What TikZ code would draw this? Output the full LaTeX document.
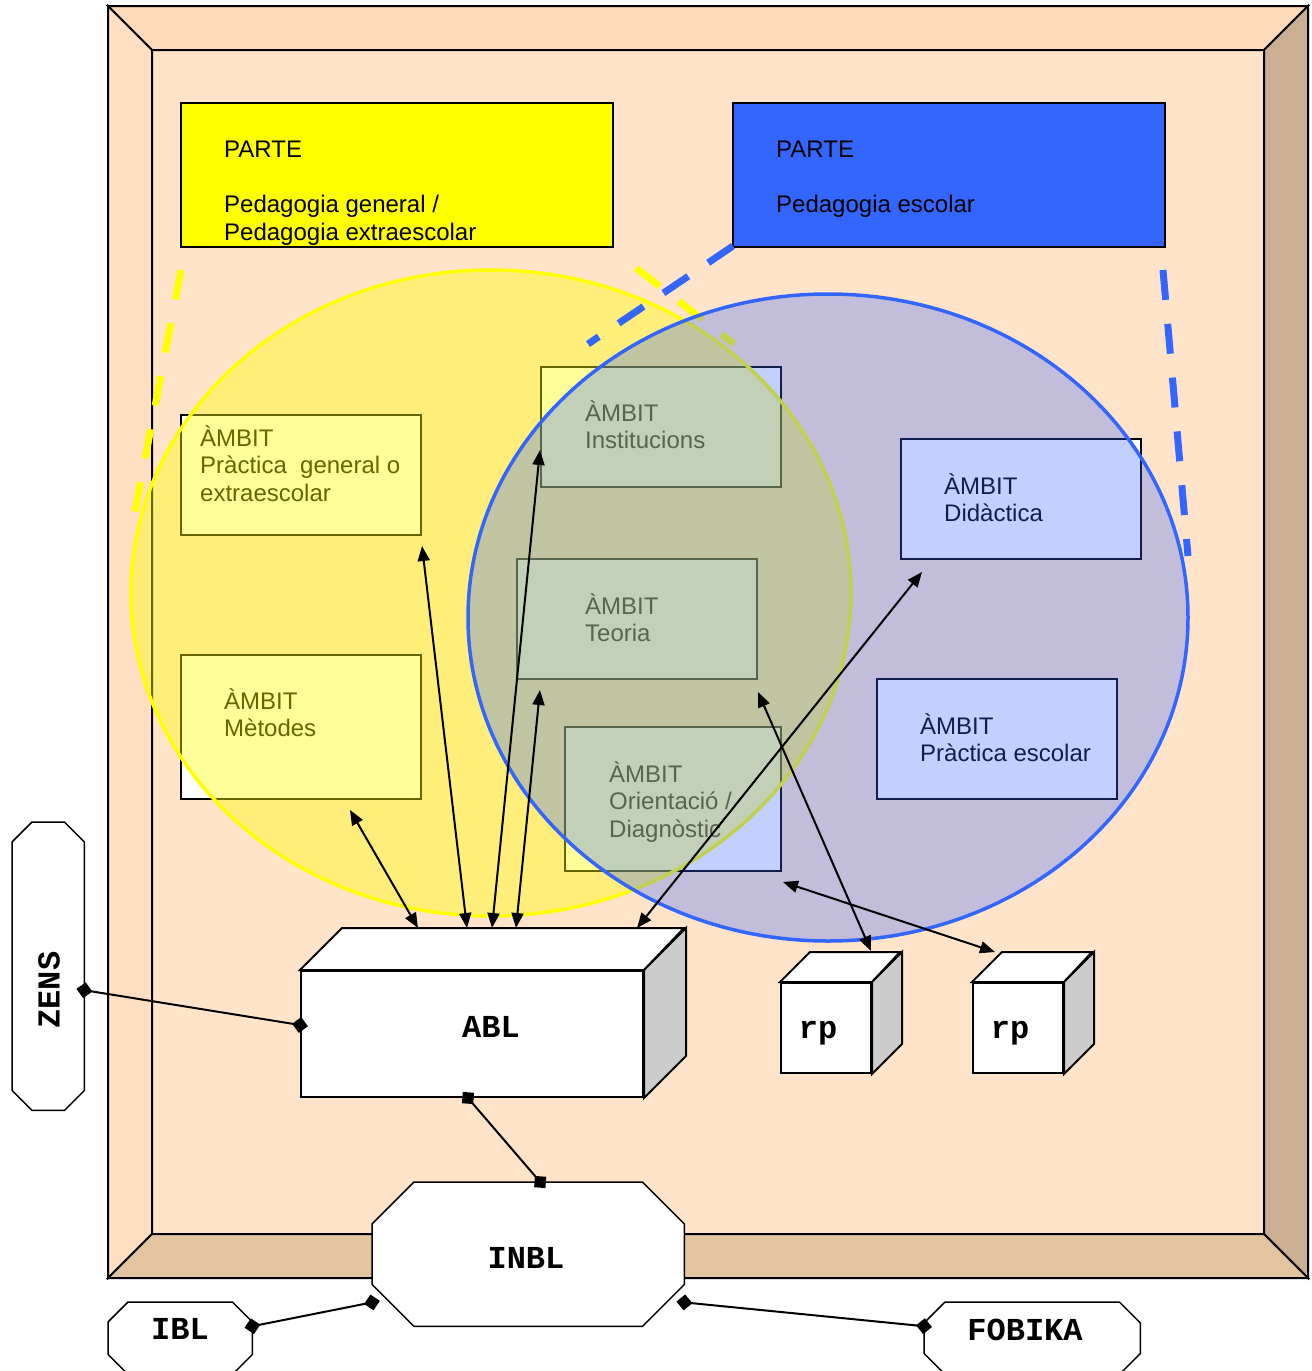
\documentclass[tikz,border=0pt]{standalone}
\usepackage{fontspec}
\setmainfont{Liberation Sans}
\setmonofont{Liberation Mono}
\usetikzlibrary{arrows.meta,calc}
\definecolor{innerc}{RGB}{255,228,202}
\definecolor{topc}{RGB}{255,218,185}
\definecolor{leftc}{RGB}{255,222,194}
\definecolor{rightc}{RGB}{203,175,147}
\definecolor{bottomc}{RGB}{227,196,161}
\definecolor{pyel}{RGB}{255,255,0}
\definecolor{pblu}{RGB}{51,102,255}
\definecolor{sidec}{RGB}{204,204,204}
\newcommand{\octopath}[2]{%
  \draw[octo] ($(#1.north west)+(#2,0)$) -- ($(#1.north east)+(-#2,0)$) -- ($(#1.north east)+(0,#2)$) -- ($(#1.south east)+(0,-#2)$) -- ($(#1.south east)+(-#2,0)$) -- ($(#1.south west)+(#2,0)$) -- ($(#1.south west)+(0,-#2)$) -- ($(#1.north west)+(0,#2)$) -- cycle;}
\newcommand{\cuboidfaces}[3]{%
  \draw[solid3d, fill=white] (#1.north west) -- ++(#2,-#2) -- ++(#3,0) -- (#1.north east) -- cycle;
  \draw[solid3d, fill=sidec] (#1.north east) -- ++(#2,-#2) -- ($(#1.south east)+(#2,-#2)$) -- (#1.south east) -- cycle;}
\begin{document}
\begin{tikzpicture}[x=1pt, y=-1pt,
  frm/.style={draw=black, line width=2pt, line join=miter},
  partebox/.style={draw=black, line width=2pt, anchor=north west, inner sep=0pt, minimum width=432pt, minimum height=144pt},
  ambit/.style={draw=black, fill=white, line width=2pt, anchor=north west, inner sep=0pt, minimum width=240pt, minimum height=120pt},
  txt/.style={font=\fontsize{24}{27.5}\selectfont, inner sep=0pt, anchor=base west},
  mono/.style={font=\fontsize{32}{32}\selectfont\ttfamily\bfseries, inner sep=0pt},
  solid3d/.style={draw=black, line width=2pt, line join=miter},
  frontface/.style={draw=black, fill=white, line width=2pt, anchor=north west, inner sep=0pt},
  octo/.style={draw=black, fill=white, line width=1.5pt},
  holder/.style={inner sep=0pt, anchor=north west},
  ydash/.style={draw=pyel, line width=7pt, dash pattern=on 30pt off 24pt},
  bdash/.style={draw=pblu, line width=7pt, dash pattern=on 30pt off 24pt},
  biarrow/.style={line width=2pt, {Triangle[length=15pt,width=12pt]}-{Triangle[length=15pt,width=12pt]}},
  link/.style={line width=2pt, {Diamond[length=16pt,width=16pt]}-{Diamond[length=16pt,width=16pt]}, shorten <=-8pt, shorten >=-8pt}
]
\useasboundingbox (0,0) rectangle (1312,1371);
\fill[white] (0,0) rectangle (1312,1371);

% frame
\fill[innerc] (152,50) rectangle (1264,1234);
\draw[frm, fill=topc] (108,6) -- (1308,6) -- (1264,50) -- (152,50) -- cycle;
\draw[frm, fill=leftc] (108,6) -- (152,50) -- (152,1234) -- (108,1278) -- cycle;
\draw[frm, fill=rightc] (1308,6) -- (1308,1278) -- (1264,1234) -- (1264,50) -- cycle;
\draw[frm, fill=bottomc] (108,1278) -- (152,1234) -- (1264,1234) -- (1308,1278) -- cycle;

% PARTE boxes
\node[partebox, fill=pyel] (py) at (180,102) {};
\node[partebox, fill=pblu] (pb) at (732,102) {};
\node[txt] (pyt) at (224,157) {\vtop{\hbox{PARTE}\vskip 28pt\hbox{Pedagogia general /}\hbox{Pedagogia extraescolar}}};
\node[txt] (pbt) at (776,157) {\vtop{\hbox{PARTE}\vskip 28pt\hbox{Pedagogia escolar}}};

% AMBIT boxes
\node[ambit] (apg) at (180,414) {};
\node[ambit, minimum height=144pt] (amet) at (180,654) {};
\node[ambit] (ains) at (540,366) {};
\node[ambit] (ateo) at (516,558) {};
\node[ambit, minimum width=216pt, minimum height=144pt] (aori) at (564,726) {};
\node[ambit] (adid) at (900,438) {};
\node[ambit] (apes) at (876,678) {};

\node[txt] (tpg) at (200,446) {\vtop{\hbox{ÀMBIT}\hbox{Pràctica~ general o}\hbox{extraescolar}}};
\node[txt] (tmet) at (224,709) {\vtop{\hbox{ÀMBIT}\hbox{Mètodes}}};
\node[txt] (tins) at (585,421) {\vtop{\hbox{ÀMBIT}\hbox{Institucions}}};
\node[txt] (tteo) at (585,614) {\vtop{\hbox{ÀMBIT}\hbox{Teoria}}};
\node[txt] (tori) at (609,782) {\vtop{\hbox{ÀMBIT}\hbox{Orientació /}\hbox{Diagnòstic}}};
\node[txt] (tdid) at (944,494) {\vtop{\hbox{ÀMBIT}\hbox{Didàctica}}};
\node[txt] (tpes) at (920,734) {\vtop{\hbox{ÀMBIT}\hbox{Pràctica escolar}}};

% yellow dashes
\coordinate (yd1a) at (181,270);
\coordinate (yd1b) at (133,522);
\coordinate (yd2a) at (636,268);
\coordinate (yd2b) at (734,344);
\draw[ydash] (yd1a) -- (yd1b);
\draw[ydash] (yd2a) -- (yd2b);

% ellipses
\fill[pyel, fill opacity=0.4] (491,593) ellipse [x radius=360, y radius=323];
\draw[pyel, line width=3.5pt] (491,593) ellipse [x radius=360, y radius=323];
\fill[pblu, fill opacity=0.3] (828,617.5) ellipse [x radius=360, y radius=323.5];
\draw[pblu, line width=3.5pt] (828,617.5) ellipse [x radius=360, y radius=323.5];

% blue dashes
\coordinate (bd1a) at (733,246);
\coordinate (bd1b) at (588,344);
\coordinate (bd2a) at (1163,270);
\coordinate (bd2b) at (1188,556);
\draw[bdash] (bd1a) -- (bd1b);
\draw[bdash] (bd2a) -- (bd2b);

% ABL cuboid
\node[frontface, minimum width=342pt, minimum height=126pt] (abl) at (300,970) {};
\cuboidfaces{abl}{42}{342}
\node[mono] (ablt) at (491,1027) {ABL};

% rp cubes
\node[frontface, minimum width=90pt, minimum height=90pt] (rp1) at (780,982) {};
\cuboidfaces{rp1}{30}{90}
\node[mono] (rp1t) at (818,1033) {rp};
\node[frontface, minimum width=90pt, minimum height=90pt] (rp2) at (972,982) {};
\cuboidfaces{rp2}{30}{90}
\node[mono] (rp2t) at (1010,1033) {rp};

% arrows
\draw[biarrow] ($(abl.north west)+(118,-42)$) -- ($(amet.south)+(49,10)$);
\draw[biarrow] ($(abl.north west)+(167,-42)$) -- ($(apg.south east)+(0,10)$);
\draw[biarrow] ($(abl.north west)+(192,-42)$) -- ($(ains.south west)+(0,-38)$);
\draw[biarrow] ($(abl.north west)+(216,-42)$) -- ($(ateo.south west)+(24,10)$);
\draw[biarrow] ($(abl.north west)+(337,-42)$) -- ($(adid.south west)+(22,12)$);
\draw[biarrow] ($(rp1.north west)+(91,-31)$) -- ($(ateo.south east)+(0,12)$);
\draw[biarrow] ($(rp2.north west)+(23,-30)$) -- ($(aori.south east)+(1,10)$);

% octagons
\node[holder, minimum width=72pt, minimum height=288pt] (zens) at (12,822) {};
\octopath{zens}{20}
\node[mono, rotate=90] (zenst) at (49,990) {ZENS};
\node[holder, minimum width=312pt, minimum height=144pt] (inbl) at (372,1182) {};
\octopath{inbl}{42}
\node[mono] (inblt) at (526,1258) {INBL};
\node[holder, minimum width=144pt, minimum height=72pt] (ibl) at (108,1302) {};
\octopath{ibl}{20}
\node[mono] (iblt) at (180,1329) {IBL};
\node[holder, minimum width=216pt, minimum height=72pt] (fob) at (924,1302) {};
\octopath{fob}{21}
\node[mono] (fobt) at (1025,1330) {FOBIKA};

% links
\draw[link] ($(zens.east)+(0,24)$) -- ($(abl.west)+(0,-9)$);
\draw[link] ($(abl.south)+(-4,0)$) -- ($(inbl.north)+(12,0)$);
\draw[link] ($(inbl.south west)+(0,-24)$) -- ($(ibl.east)+(0,-12)$);
\draw[link] ($(inbl.south east)+(0,-24)$) -- ($(fob.west)+(0,-12)$);
\end{tikzpicture}
\end{document}
